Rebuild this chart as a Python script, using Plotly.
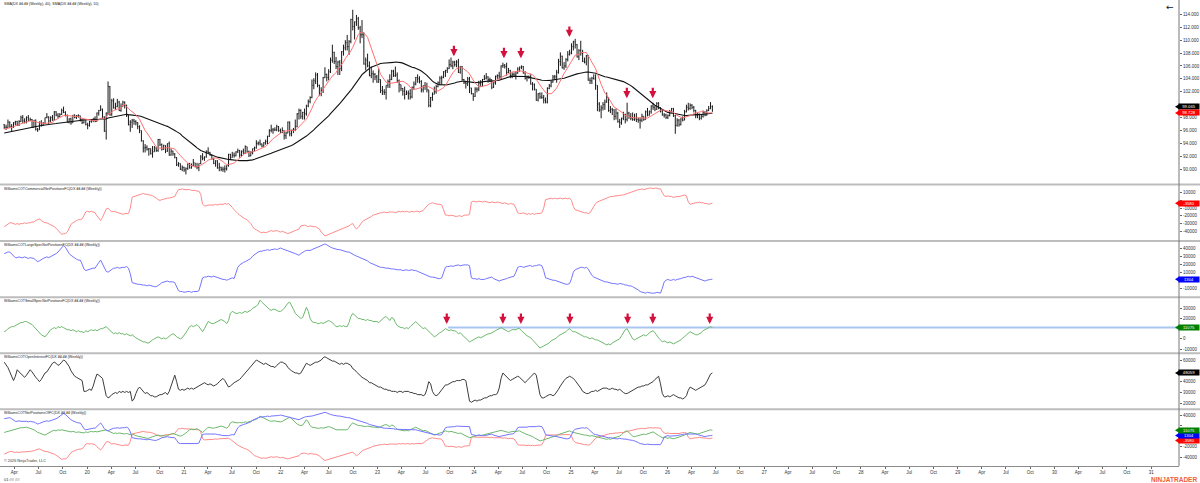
import pandas as pd
import plotly.graph_objects as go

# ---------------- data (weekly bars, Friday stamps) ----------------
FIRST_WEEK = "2019-02-22"
X_START, X_END = "2019-02-06", "2031-04-16"

# 40 weekly closes before the first visible bar (SMA warm-up, off screen)
warmup_closes = [93.7, 94.2, 94.2, 93.6, 94.8, 94.5, 94.6, 94.0, 94.7, 94.4,
                 94.7, 95.1, 96.4, 96.1, 95.2, 95.1, 95.4, 94.9, 93.9, 95.1,
                 95.6, 95.2, 95.7, 96.4, 96.5, 96.9, 96.4, 96.9, 97.3, 96.7,
                 97.4, 96.9, 96.4, 96.2, 95.7, 96.3, 95.9, 95.6, 96.6, 96.9]

closes = [
    # 2019
    96.5, 96.5, 97.3, 96.6, 96.6, 97.2, 97.4, 96.9, 97.4, 98.0, 97.5, 97.3, 98.0, 97.6, 97.7, 96.5,
    97.6, 96.2, 96.1, 97.3, 96.8, 97.1, 98.0, 98.1, 97.5, 98.0, 97.6, 98.9, 98.4, 98.2, 98.5, 99.1,
    98.8, 98.3, 97.3, 97.8, 97.2, 98.4, 98.0, 98.3, 98.3, 97.7, 97.2, 97.7, 96.9, 96.8,
    # 2020
    97.4, 97.6, 97.9, 97.4, 98.7, 99.1, 99.3, 98.1, 95.9, 98.7, 102.8, 98.4, 100.6, 99.5, 99.7, 100.4,
    99.1, 99.7, 100.4, 99.9, 98.3, 96.9, 97.3, 97.6, 97.4, 97.2, 96.6, 96.0, 94.4, 93.3, 93.4, 93.1,
    93.2, 92.4, 92.7, 93.3, 92.9, 94.6, 93.8, 93.1, 93.7, 92.8, 94.0, 92.2, 92.8, 92.4, 91.8, 90.7,
    90.9, 90.0, 90.3, 89.9,
    # 2021
    90.1, 90.8, 90.2, 90.6, 91.0, 90.4, 90.3, 90.9, 91.9, 91.7, 91.9, 92.8, 92.6, 92.2, 91.6, 90.9,
    91.3, 90.2, 90.3, 90.0, 90.0, 90.1, 90.6, 92.3, 91.8, 92.2, 92.1, 92.7, 92.9, 92.2, 92.8, 92.5,
    93.5, 92.7, 92.1, 92.6, 93.2, 93.3, 94.0, 94.1, 93.9, 93.6, 94.1, 94.3, 95.1, 96.0, 96.1, 96.1,
    96.1, 96.6, 96.0, 95.7,
    # 2022
    96.0, 95.2, 95.6, 97.3, 95.5, 96.1, 96.1, 96.6, 98.6, 99.1, 98.2, 98.8, 98.6, 99.8, 100.5, 101.1,
    103.0, 103.7, 104.6, 103.0, 101.7, 102.2, 104.2, 104.7, 104.2, 105.1, 106.9, 108.1, 106.7, 105.9,
    106.6, 105.6, 108.2, 108.8, 109.6, 109.0, 109.8, 113.2, 112.1, 112.8, 113.3, 111.9, 110.8, 110.9,
    106.3, 106.9, 106.0, 104.5, 104.8, 104.7, 104.3, 103.5,
    # 2023
    103.9, 102.2, 102.0, 101.9, 103.0, 103.6, 103.9, 105.2, 104.5, 104.6, 103.7, 103.1, 102.5, 102.1,
    101.6, 101.8, 101.7, 101.2, 102.7, 103.2, 104.2, 104.0, 103.6, 102.3, 102.9, 102.9, 102.3, 99.9,
    101.1, 101.6, 102.0, 102.8, 103.4, 104.1, 104.2, 105.1, 105.3, 105.6, 106.2, 106.0, 106.6, 106.2,
    106.6, 105.0, 105.9, 103.9, 103.4, 103.3, 104.0, 102.6, 101.7, 101.3,
    # 2024
    102.4, 102.4, 103.3, 103.4, 103.9, 104.1, 104.3, 103.9, 103.9, 102.7, 103.4, 104.4, 104.5, 104.3,
    106.0, 106.1, 105.9, 105.0, 105.3, 104.5, 104.7, 104.6, 104.9, 105.5, 105.8, 105.9, 104.9, 104.1,
    104.4, 104.3, 103.2, 103.1, 102.4, 100.7, 101.7, 101.2, 101.1, 100.7, 100.4, 102.5, 102.9, 103.5,
    104.3, 104.3, 105.0, 106.7, 107.5, 105.7, 106.0, 107.0, 107.8, 108.0, 109.0,
    # 2025
    109.7, 109.3, 107.4, 108.4, 108.0, 106.7, 106.6, 107.6, 103.8, 103.7, 104.1, 104.0, 103.0, 100.1,
    99.2, 99.5, 100.0, 100.4, 101.1, 99.1, 99.3, 99.2, 98.2, 98.7, 97.4, 97.2, 97.9, 98.5, 97.7, 98.7,
    98.2, 97.9, 97.7, 97.8, 97.7, 97.6, 97.6, 98.2, 97.7, 98.9, 98.4, 98.9, 99.8, 99.6, 99.3, 100.2,
    99.5, 99.0, 98.4, 98.4, 98.0, 98.3,
    # 2026
    98.9, 99.4, 98.3, 96.8, 97.6, 96.9, 97.8, 97.6, 98.9, 99.6, 99.4, 99.9, 99.6, 99.1, 98.3, 98.4,
    97.9, 98.2, 98.8, 98.4, 99.1, 99.4, 99.712, 99.065,
]

highs = [
    97.0, 96.9, 97.7, 97.4, 97.0, 97.3, 97.5, 97.5, 97.6, 98.3, 98.4, 97.9, 98.2, 98.4, 98.0, 97.8,
    97.6, 97.7, 96.4, 97.4, 97.6, 97.3, 98.0, 98.7, 98.2, 98.2, 98.4, 99.0, 99.0, 98.7, 98.7, 99.4,
    99.7, 99.0, 98.5, 97.9, 98.0, 98.4, 98.5, 98.4, 98.5, 98.3, 97.8, 97.8, 97.7, 97.2,
    97.5, 97.7, 97.9, 98.2, 98.8, 99.2, 99.9, 99.4, 98.2, 98.8, 103.6, 102.9, 100.9, 101.0, 100.3, 100.9,
    100.6, 100.2, 100.6, 100.5, 100.0, 98.4, 97.6, 97.8, 97.8, 97.6, 97.3, 96.8, 96.0, 94.5, 93.9, 93.7,
    93.3, 93.2, 93.6, 93.6, 93.4, 94.7, 94.7, 94.0, 93.8, 93.7, 94.0, 94.3, 93.2, 92.9, 92.5, 91.9,
    91.1, 90.9, 90.6, 90.4,
    90.3, 90.9, 91.0, 90.9, 91.6, 91.0, 91.0, 90.9, 92.2, 92.5, 92.0, 92.9, 93.4, 92.7, 92.3, 91.8,
    91.4, 91.4, 91.0, 90.4, 90.4, 90.6, 90.6, 92.4, 92.4, 92.7, 92.6, 92.8, 93.2, 93.0, 92.9, 93.2,
    93.7, 93.5, 92.9, 92.8, 93.2, 93.5, 94.5, 94.3, 94.6, 94.0, 94.2, 94.6, 95.2, 96.2, 96.9, 96.4,
    96.5, 96.9, 96.7, 96.3,
    96.5, 96.0, 95.8, 97.4, 97.4, 96.1, 96.4, 97.7, 98.7, 99.4, 99.3, 98.9, 99.4, 100.0, 100.8, 101.3,
    103.9, 104.1, 105.0, 104.9, 103.1, 102.7, 104.3, 105.8, 104.8, 105.5, 107.3, 109.3, 108.2, 107.4,
    106.8, 106.9, 108.3, 109.3, 110.0, 110.8, 110.0, 113.3, 114.7, 112.9, 113.9, 113.6, 112.2, 113.1,
    111.2, 107.3, 107.9, 106.7, 105.9, 105.3, 104.9, 104.6,
    105.6, 103.9, 102.9, 102.4, 103.0, 103.9, 104.7, 105.4, 105.4, 105.9, 105.0, 103.9, 103.1, 102.6,
    102.8, 102.2, 102.2, 102.4, 102.8, 103.6, 104.3, 104.7, 104.4, 103.8, 103.0, 103.5, 103.4, 102.3,
    101.2, 101.9, 102.8, 103.1, 103.6, 104.4, 104.5, 105.2, 105.4, 105.8, 107.0, 107.3, 106.8, 106.8,
    106.9, 107.1, 106.0, 106.0, 104.0, 103.7, 104.3, 104.3, 102.6, 101.8,
    102.7, 102.7, 103.7, 103.8, 104.0, 104.6, 104.9, 104.4, 104.2, 103.9, 103.5, 104.5, 104.7, 105.1,
    106.1, 106.5, 106.3, 106.5, 105.7, 105.4, 105.0, 105.0, 105.1, 105.8, 105.9, 106.1, 106.0, 105.2,
    104.5, 104.5, 104.8, 103.5, 103.3, 102.4, 101.8, 101.9, 101.9, 101.5, 101.1, 102.7, 103.2, 103.8,
    104.6, 104.6, 105.4, 107.1, 108.1, 107.6, 106.6, 107.2, 108.3, 108.5, 109.5,
    109.9, 110.2, 109.4, 108.6, 109.9, 108.5, 107.3, 107.7, 107.7, 104.2, 104.3, 104.7, 104.7, 103.0,
    100.4, 99.9, 100.4, 100.8, 101.9, 101.1, 99.8, 99.5, 99.3, 99.4, 98.9, 97.8, 98.0, 98.9, 98.6, 100.3,
    98.9, 98.7, 98.8, 98.6, 98.7, 98.0, 98.0, 98.6, 98.2, 99.1, 99.5, 99.1, 99.9, 100.3, 99.8, 100.4,
    100.4, 99.6, 99.3, 98.7, 98.6, 98.5,
    99.2, 99.5, 99.5, 98.4, 97.9, 97.8, 97.9, 98.2, 99.2, 100.0, 100.3, 100.2, 100.1, 99.8, 99.2, 98.7,
    98.6, 98.5, 99.1, 99.0, 99.3, 99.8, 100.4, 99.9,
]

lows = [
    96.2, 96.1, 96.4, 96.4, 95.8, 96.4, 96.8, 96.7, 96.7, 97.3, 97.1, 97.1, 97.1, 97.5, 97.5, 96.4,
    96.5, 96.0, 95.8, 96.1, 96.6, 96.7, 97.0, 97.9, 97.0, 97.3, 97.5, 97.6, 98.2, 97.9, 98.1, 98.4,
    98.7, 98.2, 97.2, 97.1, 96.9, 97.2, 97.9, 97.8, 98.0, 97.4, 97.0, 97.1, 96.8, 96.2,
    96.6, 97.2, 97.3, 97.3, 97.4, 98.3, 99.0, 97.9, 95.8, 94.6, 98.4, 98.3, 98.3, 99.4, 99.2, 99.6,
    99.0, 98.9, 99.7, 99.4, 98.1, 96.8, 95.8, 96.4, 96.9, 96.8, 96.2, 95.6, 94.3, 92.6, 92.6, 92.9,
    92.1, 92.3, 91.8, 92.7, 92.7, 92.7, 93.6, 92.9, 93.0, 92.5, 92.7, 92.1, 92.1, 92.1, 91.7, 90.5,
    90.4, 89.9, 89.7, 89.6,
    89.2, 89.9, 90.1, 90.1, 90.5, 90.3, 90.0, 89.7, 90.8, 91.4, 91.3, 91.8, 92.5, 92.1, 91.5, 90.8,
    90.4, 90.1, 89.7, 89.7, 89.6, 89.5, 89.8, 90.4, 91.5, 91.9, 91.8, 92.0, 92.5, 91.8, 91.9, 92.4,
    92.4, 92.6, 91.9, 92.0, 92.3, 92.8, 93.2, 93.7, 93.7, 93.4, 93.5, 93.8, 93.9, 95.0, 95.7, 95.5,
    95.9, 95.9, 95.8, 95.6,
    95.6, 94.6, 94.7, 95.6, 95.1, 95.1, 95.6, 95.9, 96.5, 97.7, 97.8, 97.7, 97.7, 98.3, 99.6, 100.2,
    101.0, 102.4, 103.2, 102.7, 101.4, 101.3, 101.8, 104.1, 103.6, 103.8, 104.9, 106.5, 106.3, 105.5,
    104.6, 104.6, 105.2, 107.6, 108.4, 108.4, 107.7, 109.5, 111.5, 110.1, 112.2, 111.6, 109.5, 110.3,
    106.2, 105.3, 105.8, 104.4, 104.1, 103.4, 103.8, 103.4,
    103.4, 101.8, 101.5, 101.5, 100.8, 102.6, 102.6, 103.8, 104.3, 104.3, 103.4, 101.9, 102.1, 101.4,
    100.8, 101.5, 100.8, 100.8, 101.0, 102.3, 103.0, 103.4, 103.3, 101.9, 101.9, 102.3, 101.9, 99.6,
    99.6, 100.6, 101.7, 101.7, 102.7, 103.0, 103.1, 104.1, 104.3, 104.9, 105.5, 105.8, 105.5, 105.9,
    105.8, 104.9, 104.8, 103.7, 103.2, 102.5, 102.9, 101.8, 101.6, 100.6,
    101.2, 101.9, 102.1, 102.8, 102.8, 103.8, 103.9, 103.4, 103.5, 102.4, 102.6, 103.1, 104.0, 103.9,
    103.9, 105.7, 105.6, 104.5, 104.9, 104.1, 104.1, 104.4, 103.9, 104.8, 105.1, 105.5, 104.8, 103.9,
    103.6, 104.0, 103.1, 102.2, 102.2, 100.6, 100.5, 100.9, 100.9, 100.2, 100.2, 100.2, 102.4, 102.7,
    103.4, 103.8, 103.4, 104.8, 106.0, 105.6, 105.4, 105.7, 106.7, 107.6, 107.8,
    108.4, 108.7, 107.3, 106.9, 107.6, 106.6, 106.4, 106.1, 103.7, 103.2, 103.2, 103.9, 102.3, 99.0,
    98.9, 97.9, 99.1, 99.2, 100.3, 98.9, 98.7, 98.4, 97.6, 97.7, 97.2, 96.4, 96.9, 97.6, 97.1, 97.4,
    97.8, 97.6, 97.5, 97.5, 97.3, 97.2, 96.3, 97.3, 97.5, 97.7, 98.2, 98.3, 98.6, 99.2, 99.0, 99.2,
    99.3, 98.8, 98.3, 98.0, 97.8, 97.8,
    98.2, 98.8, 98.1, 95.5, 96.6, 96.6, 96.8, 97.4, 97.6, 98.8, 99.1, 99.2, 99.3, 98.8, 97.9, 97.9,
    97.6, 97.7, 98.0, 98.2, 98.3, 99.0, 99.3, 98.9,
]

# COT series, in thousands of contracts
commercial_k = [
    -34, -32, -30, -29, -29, -30, -31, -30, -31, -30, -30, -29, -30, -29, -29, -28, -28, -26, -25, -24,
    -26, -28, -29, -29, -30, -31, -32, -34, -36, -39, -42, -44, -43, -43, -41, -35, -31, -29, -27, -26,
    -25, -25, -24, -20, -15, -14, -15, -14, -15, -16, -20, -23, -26, -22, -15, -11, -10, -13, -15, -14,
    -15, -16, -17, -17, -18, -17, -17, -17, -10, 4, 5, 6, 7, 8, 8, 9, 8, 8, 7, 7,
    6, 5, 3, 1, 0, 1, 2, 2, 3, 3, 4, 5, 5, 10, 14, 14, 15, 14, 14, 14,
    14, 13, 13, 13, 12, 12, 8, -5, -7, -7, -6, -6, -6, -6, -5, -6, -5, -5, -5, -4,
    -5, -4, -6, -9, -12, -15, -17, -19, -21, -23, -24, -25, -27, -30, -34, -37, -38, -40, -41, -42,
    -41, -42, -41, -40, -39, -40, -39, -39, -40, -41, -40, -41, -42, -43, -42, -41, -40, -38, -37, -37,
    -33, -32, -32, -33, -34, -33, -34, -34, -34, -35, -37, -41, -44, -46, -45, -44, -43, -42, -41, -40,
    -39, -38, -37, -36, -35, -34, -33, -31, -30, -34, -37, -35, -31, -28, -26, -25, -24, -22, -21, -19,
    -18, -18, -17, -16, -16, -15, -16, -15, -15, -15, -15, -16, -15, -14, -15, -14, -15, -14, -15, -15,
    -14, -15, -14, -14, -15, -14, -13, -10, -7, -5, -4, -3, -4, -5, -5, -5, -6, -12, -19, -19,
    -20, -19, -20, -20, -21, -20, -20, -21, -19, -19, -19, -18, -2, -1, -2, -2, -1, -2, -2, -1,
    -2, -2, -3, -2, -3, -3, -2, -3, -3, -4, -3, -4, -5, -4, -5, -5, -10, -16, -17, -17,
    -16, -17, -18, -17, -18, -17, -18, -17, -17, -17, -16, -10, 1, 2, 2, 3, 2, 3, 2, 3,
    3, 2, 3, 3, 2, 3, 0, -8, -12, -13, -14, -15, -15, -16, -16, -17, -16, -12, -7, -4,
    -2, -1, 1, 2, 3, 4, 5, 5, 5, 6, 6, 6, 7, 7, 7, 8, 9, 10, 11, 12,
    13, 13, 14, 14, 15, 14, 15, 16, 16, 16, 15, 16, 16, 15, 15, 10, 6, 5, 6, 5,
    5, 4, 5, 5, 5, 6, 7, 7, 6, -2, -5, -4, -4, -3, -3, -2, -3, -3, -4, -4,
    -5, -4, -3.58,
]

large_spec_k = [
    33, 34, 35, 35, 33, 30, 28, 28, 29, 28, 28, 29, 28, 27, 28, 27, 27, 25, 23, 24,
    26, 27, 28, 29, 28, 29, 30, 31, 33, 35, 38, 41, 43, 41, 37, 33, 31, 29, 27, 26,
    25, 25, 20, 14, 12, 13, 14, 14, 15, 15, 19, 22, 25, 20, 14, 11, 10, 12, 14, 15,
    15, 16, 15, 16, 16, 16, 17, 15, 8, -3, -4, -4, -5, -5, -6, -6, -6, -7, -6, -7,
    -7, -8, -8, -7, -5, -3, -2, -2, -1, -2, -2, -2, -3, -8, -13, -14, -14, -15, -14, -14,
    -14, -15, -14, -14, -14, -13, -5, 3, 4, 4, 5, 4, 4, 5, 4, 3, 3, 2, 1, 1,
    0, 1, 2, 3, 2, 8, 16, 19, 21, 22, 23, 24, 25, 27, 30, 32, 34, 35, 36, 36,
    37, 37, 38, 37, 38, 38, 39, 38, 39, 40, 39, 38, 37, 36, 35, 35, 34, 33, 32, 31,
    33, 35, 36, 37, 37, 37, 38, 39, 40, 41, 43, 44, 45, 45, 44, 42, 41, 40, 39, 39,
    38, 38, 37, 36, 36, 35, 35, 34, 33, 31, 30, 29, 28, 27, 26, 25, 24, 22, 21, 20,
    19, 18, 17, 16, 16, 15, 15, 15, 14, 14, 14, 13, 13, 13, 13, 12, 13, 13, 12, 13,
    13, 12, 12, 11, 10, 9, 8, 7, 6, 5, 4, 4, 3, 3, 2, 2, 3, 9, 16, 17,
    17, 18, 17, 18, 19, 19, 18, 19, 19, 19, 19, 18, 3, 2, 2, 1, 2, 1, 1, 1,
    2, 3, 4, 4, 2, 1, 0, -1, 0, 1, 1, 2, 3, 4, 4, 5, 10, 16, 17, 17,
    16, 17, 17, 18, 18, 17, 18, 18, 19, 19, 18, 12, 3, 2, 1, 1, 0, 0, -1, -1,
    -2, -3, -4, -5, -5, -4, 2, 10, 13, 14, 15, 16, 16, 15, 16, 14, 10, 6, 4, 3,
    2, 1, 0, -1, -2, -2, -3, -3, -4, -4, -5, -5, -4, -5, -5, -6, -6, -7, -7, -8,
    -9, -10, -12, -14, -15, -15, -16, -15, -16, -16, -16, -16, -15, -16, -16, -10, -2, 0, 1, 0,
    0, 1, 0, 1, 2, 2, 3, 4, 4, 5, 4, 5, 4, 4, 3, 2, 1, 0, -1, 0,
    1, 1, 1.304,
]

small_spec_k = [
    7, 8, 10, 11, 12, 12, 13, 14, 15, 16, 16, 17, 17, 16, 15, 14, 12, 10, 7, 6,
    4, 3, 2, 4, 7, 9, 10, 11, 10, 12, 11, 12, 11, 10, 9, 9, 8, 9, 8, 7,
    8, 7, 7, 6, 8, 7, 8, 9, 8, 9, 8, 9, 10, 10, 11, 12, 10, 8, 6, 5,
    6, 5, 6, 5, 5, 4, 5, 4, 3, 4, 2, 1, 0, -1, -2, -3, -3, -4, -4, -2,
    -1, 0, 1, 2, 1, 0, 1, 0, 1, 3, 4, 5, 4, 2, 1, 0, 1, 3, 6, 9,
    12, 13, 12, 13, 14, 12, 9, 7, 10, 14, 17, 16, 15, 15, 16, 17, 18, 19, 18, 17,
    15, 18, 25, 27, 26, 25, 25, 26, 25, 26, 27, 26, 27, 28, 30, 31, 32, 34, 38, 36,
    34, 33, 31, 29, 28, 29, 29, 28, 27, 27, 28, 30, 33, 35, 36, 33, 29, 25, 23, 21,
    20, 21, 26, 31, 27, 20, 17, 16, 16, 15, 15, 16, 15, 16, 17, 18, 17, 16, 14, 12,
    12, 13, 12, 13, 12, 12, 16, 22, 25, 23, 21, 20, 20, 19, 19, 18, 19, 18, 18, 17,
    17, 17, 16, 18, 20, 21, 22, 20, 18, 21, 20, 16, 13, 12, 11, 11, 10, 11, 10, 12,
    14, 16, 17, 15, 13, 11, 10, 11, 9, 7, 5, 3, 2, 3, 5, 6, 7, 9, 10, 9,
    8, 9, 8, 8, 7, 5, 6, 4, 2, 0, -2, -3, -2, -1, 0, 1, 2, 1, 2, 3,
    4, 5, 5, 6, 7, 8, 9, 10, 11, 10, 9, 8, 7, 8, 9, 9, 9, 10, 10, 8,
    6, 4, 3, 2, 1, -1, -3, -5, -7, -9, -8, -7, -6, -5, -4, -2, -1, 0, 1, 3,
    4, 5, 6, 7, 9, 10, 8, 7, 7, 6, 5, 4, 3, 2, 2, 1, 0, 1, 0, -1,
    -1, -2, -3, -4, -5, -6, -5, -6, -4, -3, -2, -1, 0, 3, 6, 9, 10, 7, 3, 0,
    -1, 0, 1, 2, 3, 4, 3, 4, 6, 7, 8, 6, 3, 1, -1, -3, -2, -3, -4, -3,
    -4, -5, -4, -3, -2, -1, 1, 2, 4, 6, 7, 6, 5, 4, 4, 5, 6, 8, 9, 10,
    11, 12, 11.075,
]

open_interest_k = [
    58, 56, 53, 49, 44, 41, 45, 51, 49, 47, 45, 44, 46, 48, 51, 49, 46, 44, 42, 40,
    42, 45, 48, 49, 52, 55, 57, 58, 57, 55, 56, 58, 60, 59, 57, 54, 50, 47, 45, 44,
    43, 42, 41, 31, 31, 32, 33, 32, 36, 42, 47, 46, 44, 43, 35, 27, 25, 26, 28, 29,
    30, 29, 31, 30, 31, 30, 31, 30, 31, 22, 24, 29, 33, 35, 33, 31, 29, 30, 28, 27,
    27, 26, 26, 27, 28, 28, 29, 30, 28, 31, 36, 42, 46, 40, 33, 32, 33, 32, 33, 34,
    33, 34, 33, 34, 35, 36, 37, 38, 39, 38, 37, 38, 37, 36, 37, 38, 40, 42, 43, 41,
    38, 35, 36, 38, 39, 40, 41, 42, 44, 46, 48, 49, 51, 53, 56, 58, 60, 59, 58, 57,
    56, 57, 56, 55, 54, 54, 53, 55, 57, 58, 58, 57, 56, 53, 51, 50, 49, 48, 48, 47,
    48, 51, 55, 57, 56, 55, 56, 57, 58, 58, 59, 60, 62, 63, 62, 61, 60, 59, 59, 58,
    57, 56, 57, 56, 57, 57, 56, 55, 52, 51, 49, 47, 45, 44, 43, 42, 41, 39, 39, 38,
    37, 36, 35, 35, 34, 33, 33, 32, 32, 31, 31, 31, 30, 31, 31, 30, 31, 31, 31, 30,
    30, 29, 29, 28, 28, 28, 27, 28, 33, 40, 38, 31, 28, 27, 28, 30, 33, 35, 37, 37,
    38, 39, 40, 40, 41, 41, 41, 42, 42, 41, 33, 22, 21, 22, 23, 22, 23, 23, 24, 25,
    25, 26, 27, 27, 28, 28, 29, 34, 43, 48, 46, 44, 42, 41, 42, 43, 44, 45, 44, 42,
    40, 39, 41, 43, 45, 47, 48, 46, 36, 28, 25, 25, 26, 27, 28, 28, 27, 28, 30, 33,
    36, 39, 41, 43, 44, 45, 44, 43, 41, 39, 37, 34, 31, 30, 29, 29, 30, 31, 31, 32,
    31, 32, 33, 34, 34, 34, 33, 33, 34, 33, 33, 32, 33, 31, 30, 29, 29, 30, 31, 32,
    33, 34, 35, 35, 36, 36, 37, 37, 38, 39, 40, 42, 44, 45, 38, 29, 26, 26, 27, 26,
    27, 28, 27, 26, 25, 25, 24, 25, 27, 32, 35, 34, 33, 32, 33, 34, 35, 36, 37, 40,
    44, 47, 48.059,
]

# red marker arrows
price_arrow_dates = ["2023-10-17", "2024-04-23", "2024-06-26", "2024-12-26", "2025-07-31", "2025-11-06"]
price_arrow_levels = [107.5, 107.2, 107.2, 110.5, 101.0, 101.0]
spec_arrow_dates = ["2023-09-20", "2024-04-19", "2024-06-26", "2024-12-28", "2025-08-03", "2025-11-06", "2026-06-09"]
spec_arrow_level = 14600
spec_line_start = "2023-09-25"
spec_line_level = 11075

# ---------------- derived ----------------
n = len(closes)
dates = pd.date_range(FIRST_WEEK, periods=n, freq="W-FRI")
opens = [warmup_closes[-1]] + closes[:-1]
hi = [max(h, o, c) for h, o, c in zip(highs, opens, closes)]
lo = [min(l, o, c) for l, o, c in zip(lows, opens, closes)]
allc = pd.Series(warmup_closes + closes)
sma40 = allc.rolling(40).mean().iloc[len(warmup_closes):].tolist()
sma10 = allc.rolling(10).mean().iloc[len(warmup_closes):].tolist()

def k(v):
    return [x * 1000 for x in v]

commercial = k(commercial_k)
large_spec = k(large_spec_k)
small_spec = k(small_spec_k)
open_int = k(open_interest_k)

def dx(s):
    return dates[:len(s)]

FONT = "Arial, Liberation Sans, sans-serif"
HP = 466.0

def fr(px):
    return 1 - px / HP

C_COM, C_LRG, C_SML, C_OI = "#ff8a8a", "#7474ff", "#6cb86c", "#3c3c3c"

fig = go.Figure()
fig.add_trace(go.Ohlc(x=dates, open=opens, high=hi, low=lo, close=closes, yaxis="y",
                      increasing_line_color="#1a1a1a", decreasing_line_color="#1a1a1a",
                      line_width=1, tickwidth=0.35, hoverinfo="skip"))
fig.add_trace(go.Scatter(x=dates, y=sma40, yaxis="y", mode="lines",
                         line=dict(color="#111", width=1.1), hoverinfo="skip"))
fig.add_trace(go.Scatter(x=dates, y=sma10, yaxis="y", mode="lines",
                         line=dict(color="#ff7070", width=1), hoverinfo="skip"))
fig.add_trace(go.Scatter(x=dx(commercial), y=commercial, yaxis="y2", mode="lines",
                         line=dict(color=C_COM, width=1), hoverinfo="skip"))
fig.add_trace(go.Scatter(x=dx(large_spec), y=large_spec, yaxis="y3", mode="lines",
                         line=dict(color=C_LRG, width=1), hoverinfo="skip"))
fig.add_trace(go.Scatter(x=[spec_line_start, X_END], y=[spec_line_level, spec_line_level], yaxis="y4",
                         mode="lines", line=dict(color="#a9c6f2", width=2), hoverinfo="skip"))
fig.add_trace(go.Scatter(x=dx(small_spec), y=small_spec, yaxis="y4", mode="lines",
                         line=dict(color=C_SML, width=1), hoverinfo="skip"))
fig.add_trace(go.Scatter(x=dx(open_int), y=open_int, yaxis="y5", mode="lines",
                         line=dict(color=C_OI, width=1), hoverinfo="skip"))
fig.add_trace(go.Scatter(x=dx(commercial), y=commercial, yaxis="y6", mode="lines",
                         line=dict(color=C_COM, width=1), hoverinfo="skip"))
fig.add_trace(go.Scatter(x=dx(small_spec), y=small_spec, yaxis="y6", mode="lines",
                         line=dict(color=C_SML, width=1), hoverinfo="skip"))
fig.add_trace(go.Scatter(x=dx(large_spec), y=large_spec, yaxis="y6", mode="lines",
                         line=dict(color=C_LRG, width=1), hoverinfo="skip"))

# tick values whose labels sit under the last-value tags (reference hides them)
price_ticks = list(range(90, 115, 2))
hidden = {"yaxis": [100], "yaxis2": [0], "yaxis3": [0], "yaxis4": [10000], "yaxis5": [50000],
          "yaxis6": [20000, 0]}
panels = [
    ("yaxis", 0, 184, [87.72, 116.21], price_ticks, lambda v: f"{v:.3f}"),
    ("yaxis2", 185.5, 240.5, [-51900, 19330], list(range(-40000, 10001, 10000)), lambda v: str(v)),
    ("yaxis3", 241.5, 297, [-20800, 48060], list(range(-10000, 40001, 10000)), lambda v: str(v)),
    ("yaxis4", 297.5, 353, [-13900, 40600], list(range(-10000, 30001, 10000)), lambda v: str(v)),
    ("yaxis5", 353.5, 409.3, [14460, 66000], list(range(20000, 60001, 10000)), lambda v: str(v)),
    ("yaxis6", 409.5, 466, [-56450, 50400], list(range(-40000, 40001, 20000)), lambda v: str(v)),
]
layout_axes = {}
for name, top, bot, rng, tv, fmt in panels:
    layout_axes[name] = dict(
        domain=[max(0, fr(bot)), fr(top)], range=rng, side="right", anchor="x",
        showgrid=False, zeroline=False, showline=False, ticks="outside", ticklen=2,
        tickcolor="#666", tickwidth=1, tickvals=tv,
        ticktext=["" if v in hidden[name] else fmt(v) for v in tv],
        tickfont=dict(family=FONT, size=4.5, color="#333"), fixedrange=True)

tick_dates = pd.date_range("2019-04-01", "2031-01-01", freq="QS-JAN")
tick_labels = [d.strftime("%y") if d.month == 1 else d.strftime("%b") for d in tick_dates]

fig.update_layout(
    width=1200, height=483, margin=dict(l=0, r=21, t=0, b=17, pad=0),
    paper_bgcolor="white", plot_bgcolor="white", showlegend=False,
    xaxis=dict(type="date", range=[X_START, X_END], anchor="y6", showgrid=False, zeroline=False,
               showline=True, linecolor="#8c8c8c", linewidth=1, ticks="outside", ticklen=2,
               tickcolor="#666", tickvals=list(tick_dates), ticktext=tick_labels,
               tickfont=dict(family=FONT, size=4.5, color="#333"),
               rangeslider=dict(visible=False), fixedrange=True),
    **layout_axes,
)

shapes = []
for px in [184.5, 241, 297.3, 353.3, 409.3]:
    shapes.append(dict(type="line", xref="paper", yref="paper", x0=0, x1=1200 / 1179,
                       y0=fr(px), y1=fr(px), line=dict(color="#bdbdbd", width=2)))
shapes.append(dict(type="line", xref="paper", yref="paper", x0=1, x1=1, y0=0, y1=1,
                   line=dict(color="#777", width=1)))

anns = []
titles = [
    (0, "SMA(DX <b>##.##</b> (Weekly), 40), SMA(DX <b>##.##</b> (Weekly), 10)"),
    (185.5, "WilliamsCOTCommercialNetPositionsFC(DX <b>##.##</b> (Weekly))"),
    (241.5, "WilliamsCOTLargeSpecNetPositionsFC(DX <b>##.##</b> (Weekly))"),
    (297.5, "WilliamsCOTSmallSpecNetPositionsFC(DX <b>##.##</b> (Weekly))"),
    (353.5, "WilliamsCOTOpenInterestFC(DX <b>##.##</b> (Weekly))"),
    (409.5, "WilliamsCOTNetPositionsOIFC(DX <b>##.##</b> (Weekly))"),
]
for top, t in titles:
    anns.append(dict(xref="paper", yref="paper", x=2 / 1179, y=fr(top + 3.8), xanchor="left",
                     yanchor="middle", text=t, showarrow=False,
                     font=dict(family=FONT, size=3.6, color="#222")))

for d, v in zip(price_arrow_dates, price_arrow_levels):
    anns.append(dict(xref="x", yref="y", x=d, y=v, ax=0, ay=-12, text="", showarrow=True,
                     arrowhead=2, arrowsize=0.65, arrowwidth=2.2, arrowcolor="#d3113c", standoff=0))
for d in spec_arrow_dates:
    anns.append(dict(xref="x", yref="y4", x=d, y=spec_arrow_level, ax=0, ay=-12, text="",
                     showarrow=True, arrowhead=2, arrowsize=0.65, arrowwidth=2.2,
                     arrowcolor="#d3113c", standoff=0))

def tag(yref, val, text, color, yshift=0, px_per_unit=None):
    anns.append(dict(xref="paper", x=1, xanchor="left", xshift=-1, yref=yref, y=val,
                     yanchor="middle", yshift=yshift, text=text, showarrow=False, bgcolor=color,
                     width=20, height=5, borderpad=0, align="center",
                     font=dict(family=FONT, size=4.2, color="white")))
    yv = val + (yshift / px_per_unit if px_per_unit else 0)
    shapes.append(dict(type="path", xref="paper", yref=yref, xsizemode="pixel", ysizemode="pixel",
                       xanchor=1, yanchor=yv, path="M -4 0 L 0 2.5 L 0 -2.5 Z",
                       fillcolor=color, line=dict(width=0)))

tag("y", closes[-1], f"{closes[-1]:.3f}", "#000000", yshift=4, px_per_unit=6.458)
tag("y", sma10[-1], f"{sma10[-1]:.3f}", "#ff0000")
tag("y2", commercial[-1], f"{commercial[-1]:.0f}", "#ff0000")
tag("y3", large_spec[-1], f"{large_spec[-1]:.0f}", "#0000ff")
tag("y4", small_spec[-1], f"{small_spec[-1]:.0f}", "#008000")
tag("y5", open_int[-1], f"{open_int[-1]:.0f}", "#000000")
tag("y6", commercial[-1], f"{commercial[-1]:.0f}", "#ff0000", yshift=-2.5, px_per_unit=0.00052875)
tag("y6", large_spec[-1], f"{large_spec[-1]:.0f}", "#0000ff")
tag("y6", small_spec[-1], f"{small_spec[-1]:.0f}", "#008000")

anns.append(dict(xref="paper", yref="paper", x=2 / 1179, y=fr(461), xanchor="left", yanchor="middle",
                 text="© 2026 NinjaTrader, LLC", showarrow=False,
                 font=dict(family=FONT, size=3.8, color="#333")))
anns.append(dict(xref="paper", yref="paper", x=2 / 1179, y=fr(479), xanchor="left", yanchor="middle",
                 text="01:## ##", showarrow=False, font=dict(family=FONT, size=4, color="#333")))
anns.append(dict(xref="paper", yref="paper", x=1199 / 1179, y=fr(479), xanchor="right", yanchor="middle",
                 text="<b>NINJATRADER</b>", showarrow=False,
                 font=dict(family=FONT, size=6.5, color="#f0603c")))
anns.append(dict(xref="paper", yref="paper", x=1170 / 1179, y=fr(7), xanchor="center", yanchor="middle",
                 text="←", showarrow=False, font=dict(family="DejaVu Sans", size=9, color="#111")))

fig.update_layout(shapes=shapes, annotations=anns)
fig.write_html("out.html")
